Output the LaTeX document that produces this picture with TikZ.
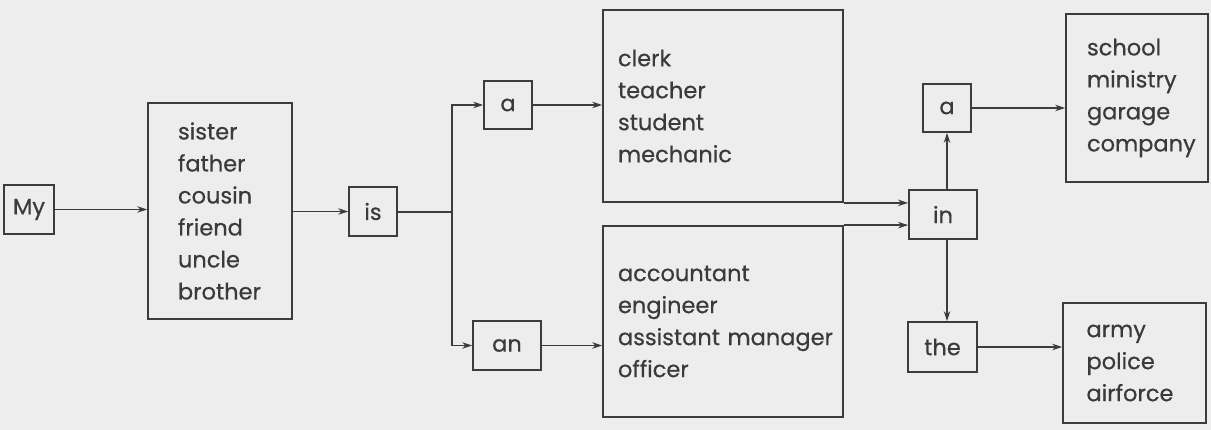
\documentclass[tikz,border=0pt]{standalone}
\usepackage{fontspec}
\setmainfont{Poppins}[FakeBold=0.5]
\usetikzlibrary{arrows.meta}
\definecolor{bg}{HTML}{EDEDED}
\definecolor{ink}{HTML}{3A3A3A}
\definecolor{ln}{HTML}{3C3C3C}
\tikzset{
  box/.style={draw=ln, line width=1.8pt, inner sep=0pt, text=ink, font=\fontsize{22.5}{32}\selectfont},
  wordbox/.style={box, minimum height=49pt},
  listbox/.style={box, align=left},
  arr/.style={draw=ln, line width=1.8pt, -{Stealth[length=10pt,width=6.5pt]}},
  ln/.style={draw=ln, line width=1.8pt}
}
\begin{document}
\begin{tikzpicture}[x=1pt,y=-1pt]
\fill[bg] (0,0) rectangle (1211,430);
\useasboundingbox (0,0) rectangle (1211,430);
% word boxes
\node[wordbox, minimum width=50pt] (my) at (29,209.5) {My};
\node[wordbox, minimum width=48pt] (is) at (373,211.5) {is};
\node[wordbox, minimum width=48pt, minimum height=48pt] (a1) at (508,105) {a};
\node[wordbox, minimum width=68pt] (an) at (507,345.5) {an};
\node[wordbox, minimum width=68pt] (in) at (943,214.5) {in};
\node[wordbox, minimum width=48pt, minimum height=48pt] (a2) at (947,108) {a};
\node[wordbox, minimum width=69pt, minimum height=50pt] (the) at (942.5,347) {the};
% list boxes
\node[listbox, minimum width=144pt, minimum height=216pt, text width=84pt] (rel) at (220,211)
  {sister\\father\\cousin\\friend\\uncle\\brother};
\node[listbox, minimum width=240pt, minimum height=192pt, text width=210pt] (jobs1) at (723,106)
  {clerk\\teacher\\student\\mechanic};
\node[listbox, minimum width=240pt, minimum height=191pt, text width=210pt] (jobs2) at (723,321.5)
  {accountant\\engineer\\\mbox{assistant manager}\\officer};
\node[listbox, minimum width=142pt, minimum height=168pt, text width=100pt] (places1) at (1137,98)
  {school\\ministry\\garage\\company};
\node[listbox, minimum width=143pt, minimum height=120pt, text width=96pt] (places2) at (1134.5,363)
  {army\\police\\airforce};
\coordinate (j) at (452,212);
% connectors
\draw[arr] (my) -- (rel.west |- my);
\draw[arr] (rel.east |- is) -- (is);
\draw[ln] (is.east |- j) -- (j);
\draw[arr] (j) |- (a1.west);
\draw[arr] (j) |- (an.west);
\draw[arr] (a1) -- (jobs1.west |- a1);
\draw[arr] (an) -- (jobs2.west |- an);
\draw[arr] (jobs1.south east) -- (jobs1.south east -| in.west);
\draw[arr] (jobs2.north east) -- (jobs2.north east -| in.west);
\draw[arr] (in.north -| a2.south) -- (a2.south);
\draw[arr] (in.south -| a2.south) -- (the.north -| a2.south);
\draw[arr] (a2) -- (places1.west |- a2);
\draw[arr] (the) -- (places2.west |- the);
\end{tikzpicture}
\end{document}
